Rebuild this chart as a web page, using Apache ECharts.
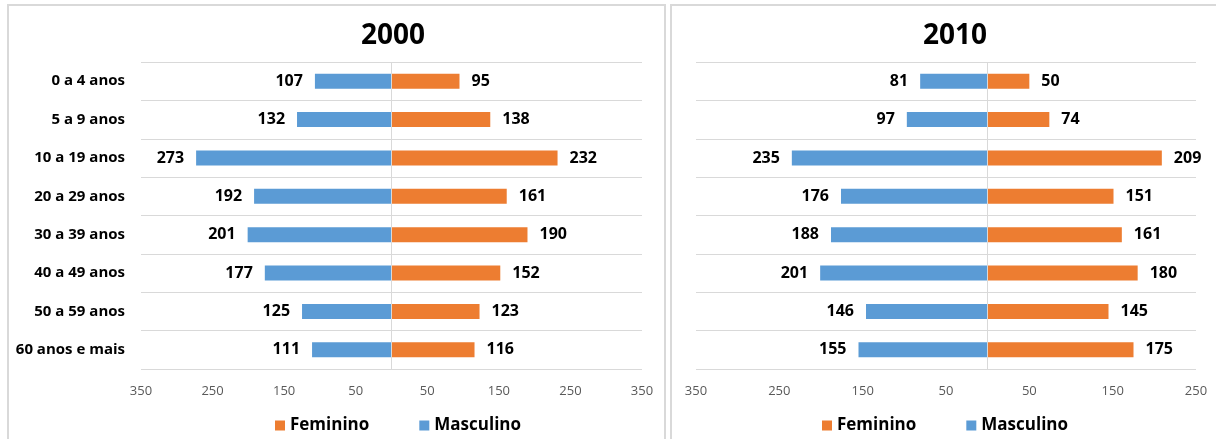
<!DOCTYPE html>
<html>
<head>
<meta charset="utf-8">
<script src="https://cdn.jsdelivr.net/npm/echarts@6/dist/echarts.min.js"></script>
<style>
  html, body { margin: 0; padding: 0; background: #fff; }
  #chart { width: 1216px; height: 439px; }
</style>
</head>
<body>
<!-- 1. dom container -->
<div id="chart"></div>
<script>
// 2. data
const categories = ['0 a 4 anos', '5 a 9 anos', '10 a 19 anos', '20 a 29 anos',
  '30 a 39 anos', '40 a 49 anos', '50 a 59 anos', '60 anos e mais']
const masc2000 = [107, 132, 273, 192, 201, 177, 125, 111]
const fem2000 = [95, 138, 232, 161, 190, 152, 123, 116]
const masc2010 = [81, 97, 235, 176, 188, 201, 146, 155]
const fem2010 = [50, 74, 209, 151, 161, 180, 145, 175]
const years = ['2000', '2010']
const legendNames = ['Feminino', 'Masculino']

const BLUE = '#5b9bd5'
const ORANGE = '#ed7d31'
const GRID_LINE = '#d9d9d9'
const FONT = '"Open Sans", "Liberation Sans", sans-serif'

// 3. init
const mChart = echarts.init(document.getElementById('chart'))

// value axis: only odd multiples of 50 are labelled, shown without sign
const valueAxis = (gridIndex, min, max) => ({
  type: 'value',
  gridIndex,
  min,
  max,
  interval: 50,
  axisLine: { show: false },
  axisTick: { show: false },
  splitLine: { show: false },
  axisLabel: {
    margin: 16,
    color: '#595959',
    fontFamily: FONT,
    fontSize: 13,
    formatter: (v) => (Math.abs(v) % 100 === 50 ? String(Math.abs(v)) : '')
  }
})

const categoryAxis = (gridIndex, showLabels) => ({
  type: 'category',
  gridIndex,
  data: categories,
  inverse: true,
  axisLine: { show: false },
  axisTick: { show: false },
  splitLine: { show: true, interval: 0, lineStyle: { color: GRID_LINE, width: 1 } },
  axisLabel: {
    show: showLabels,
    interval: 0,
    margin: 16,
    color: '#000',
    fontFamily: FONT,
    fontWeight: 'bold',
    fontSize: 15
  }
})

const barLabel = (position) => ({
  show: true,
  position,
  distance: 12,
  color: '#000',
  fontFamily: FONT,
  fontWeight: 'bold',
  fontSize: 16,
  formatter: (p) => Math.abs(p.value)
})

const barSeries = (name, idx, values, sign, color, position, withMark) => {
  const s = {
    type: 'bar',
    name,
    xAxisIndex: idx,
    yAxisIndex: idx,
    stack: 'pyr' + idx,
    barWidth: 15,
    itemStyle: { color },
    label: barLabel(position),
    data: values.map((v) => sign * v)
  }
  if (withMark) {
    // centre line at zero
    s.markLine = {
      silent: true,
      symbol: 'none',
      animation: false,
      label: { show: false },
      lineStyle: { color: GRID_LINE, type: 'solid', width: 1 },
      data: [{ xAxis: 0 }]
    }
  }
  return s
}

const legend = (left) => ({
  left,
  top: 417,
  padding: 0,
  itemWidth: 10,
  itemHeight: 10,
  itemGap: 50,
  icon: 'rect',
  data: legendNames,
  textStyle: { color: '#000', fontFamily: FONT, fontWeight: 'bold', fontSize: 17 }
})

const title = (text, left) => ({
  text,
  left,
  top: 22,
  padding: 0,
  textAlign: 'center',
  textStyle: { color: '#000', fontFamily: FONT, fontWeight: 'bold', fontSize: 28 }
})

// 4. options
const options = {
  animation: false,
  title: [title(years[0], 393), title(years[1], 955)],
  legend: [legend(275), legend(822)],
  grid: [
    { left: 141, top: 62, width: 501, height: 307 },
    { left: 696, top: 62, width: 500, height: 307 }
  ],
  xAxis: [valueAxis(0, -350, 350), valueAxis(1, -350, 250)],
  yAxis: [categoryAxis(0, true), categoryAxis(1, false)],
  series: [
    barSeries('Masculino', 0, masc2000, -1, BLUE, 'left', false),
    barSeries('Feminino', 0, fem2000, 1, ORANGE, 'right', true),
    barSeries('Masculino', 1, masc2010, -1, BLUE, 'left', false),
    barSeries('Feminino', 1, fem2010, 1, ORANGE, 'right', true)
  ],
  // panel borders
  graphic: [
    { type: 'rect', shape: { x: 8, y: 5, width: 657, height: 500 }, style: { fill: 'none', stroke: GRID_LINE, lineWidth: 2 }, z: -1 },
    { type: 'rect', shape: { x: 671, y: 5, width: 600, height: 500 }, style: { fill: 'none', stroke: GRID_LINE, lineWidth: 2 }, z: -1 }
  ]
}

// 5. render
mChart.setOption(options)
</script>
</body>
</html>
